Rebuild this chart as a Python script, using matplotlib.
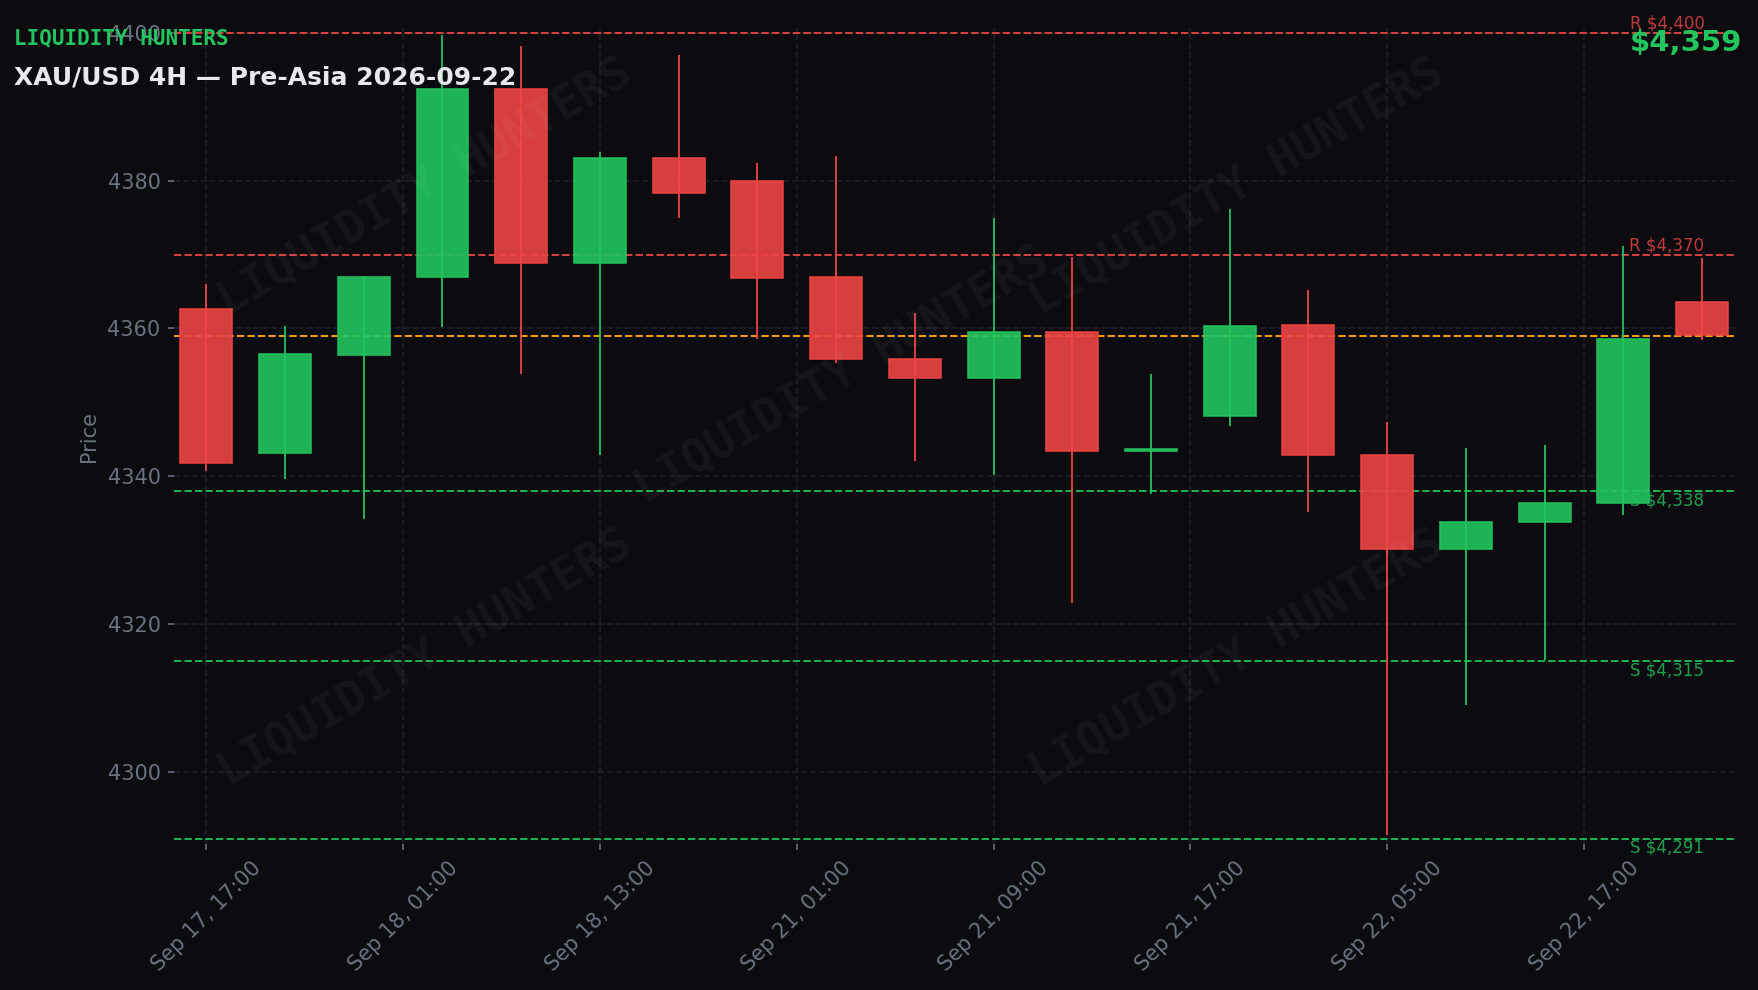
"""XAU/USD 4H candles, Pre-Asia."""

import matplotlib
matplotlib.use('Agg')
import matplotlib.pyplot as plt
from matplotlib.ticker import MultipleLocator
import numpy as np
import pandas as pd

# %% Data

times = pd.to_datetime([
    '2026-09-17 17:00', '2026-09-17 21:00',
    '2026-09-18 01:00', '2026-09-18 05:00', '2026-09-18 09:00',
    '2026-09-18 13:00', '2026-09-18 17:00', '2026-09-18 21:00',
    '2026-09-21 01:00', '2026-09-21 05:00', '2026-09-21 09:00',
    '2026-09-21 13:00', '2026-09-21 17:00', '2026-09-21 21:00',
    '2026-09-22 01:00', '2026-09-22 05:00', '2026-09-22 09:00',
    '2026-09-22 13:00', '2026-09-22 17:00', '2026-09-22 21:00',
    ])

opens = [4362.6, 4343.2, 4356.4, 4367.0, 4392.4, 4368.9, 4383.0, 4380.0,
         4367.0, 4355.9, 4353.3, 4359.5, 4343.5, 4348.2, 4360.5, 4342.9,
         4330.2, 4333.9, 4336.4, 4363.6]
highs = [4366.0, 4360.3, 4367.1, 4399.7, 4398.2, 4383.8, 4397.0, 4382.4,
         4383.3, 4362.1, 4375.0, 4369.7, 4353.8, 4376.1, 4365.2, 4347.4,
         4343.9, 4344.2, 4371.2, 4369.5]
lows = [4340.7, 4339.7, 4334.2, 4360.2, 4353.9, 4342.9, 4375.0, 4358.6,
        4355.3, 4342.1, 4340.2, 4322.9, 4337.6, 4346.8, 4335.2, 4291.5,
        4309.1, 4315.2, 4334.8, 4358.5]
closes = [4341.8, 4356.5, 4367.0, 4392.4, 4368.9, 4383.0, 4378.3, 4366.8,
          4355.9, 4353.3, 4359.5, 4343.5, 4343.7, 4360.3, 4342.9, 4330.2,
          4333.9, 4336.4, 4358.6, 4359.1]

resistance = [4400, 4370]
support = [4338, 4315, 4291]
current_price = 4359

# %% Style

BG = '#0b0b10'
GREEN = '#22c55e'
RED = '#ef4444'
ORANGE = '#f59e0b'
GREY = '#6b7280'

fig = plt.figure(figsize=(1758 / 150, 990 / 150), dpi=150, facecolor=BG)
ax = fig.add_axes([0.099, 0.1475, 0.888, 0.824], facecolor=BG)

x = np.arange(len(times))
o = np.array(opens)
c = np.array(closes)
up = c >= o

# Wicks
ax.vlines(x[up], np.array(lows)[up], np.array(highs)[up],
          color=GREEN, linewidth=0.85, zorder=3)
ax.vlines(x[~up], np.array(lows)[~up], np.array(highs)[~up],
          color=RED, linewidth=0.85, zorder=3)

# Bodies
body = np.where(np.abs(c - o) < 0.2, 0.2, c - o)
ax.bar(x[up], body[up], bottom=o[up], width=0.66,
       color=GREEN, alpha=0.9, edgecolor=GREEN, linewidth=0.8, zorder=4)
ax.bar(x[~up], body[~up], bottom=o[~up], width=0.66,
       color=RED, alpha=0.9, edgecolor=RED, linewidth=0.8, zorder=4)

# Levels
last = len(times) - 1 + 0.03
for lvl in resistance:
    ax.axhline(lvl, color=RED, linestyle='--', linewidth=0.95, alpha=0.9, zorder=2)
    ax.text(last, lvl, f'R ${lvl:,}', color=RED, alpha=0.8, fontsize=8,
            ha='right', va='bottom', zorder=6)
for lvl in support:
    ax.axhline(lvl, color=GREEN, linestyle='--', linewidth=0.95, alpha=0.9, zorder=2)
    ax.text(last, lvl, f'S ${lvl:,}', color=GREEN, alpha=0.8, fontsize=8,
            ha='right', va='top', zorder=6)
ax.axhline(current_price, color=ORANGE, linestyle='--', linewidth=0.95, zorder=2)

# Watermarks
for wx, wy in [(0.161, 0.805), (0.681, 0.805), (0.428, 0.575),
               (0.161, 0.228), (0.681, 0.228)]:
    ax.text(wx, wy, 'LIQUIDITY HUNTERS', transform=ax.transAxes,
            fontsize=22, fontweight='bold', family='DejaVu Sans Mono',
            color='white', alpha=0.045, rotation=30,
            ha='center', va='center', zorder=7)

# Axes
ax.set_xlim(-0.41, 19.42)
ax.set_ylim(4290.3, 4400.6)
ticks = np.arange(0, len(times), 2.5)
ax.set_xticks(ticks)
ax.set_xticklabels([times[int(round(t))].strftime('%b %d, %H:%M') for t in ticks],
                   rotation=45, ha='center')
ax.yaxis.set_major_locator(MultipleLocator(20))
ax.tick_params(colors=GREY, labelsize=10, length=3, width=0.8)
ax.set_ylabel('Price', color=GREY, fontsize=10)
ax.grid(True, color='#1f1f2a', linestyle='--', linewidth=0.8, zorder=0)
ax.set_axisbelow(True)
for s in ax.spines.values():
    s.set_visible(False)

# Header texts
fig.text(0.008, 0.9555, 'LIQUIDITY HUNTERS', color=GREEN, fontsize=10,
         fontweight='bold', family='DejaVu Sans Mono', va='baseline')
fig.text(0.008, 0.9145, 'XAU/USD 4H — Pre-Asia 2026-09-22', color='#e8e8ee',
         fontsize=12, fontweight='bold', va='baseline')
fig.text(0.991, 0.971, f'${current_price:,}', color=GREEN, fontsize=14,
         fontweight='bold', ha='right', va='top')

plt.savefig('out.png', dpi=150, facecolor=BG)
